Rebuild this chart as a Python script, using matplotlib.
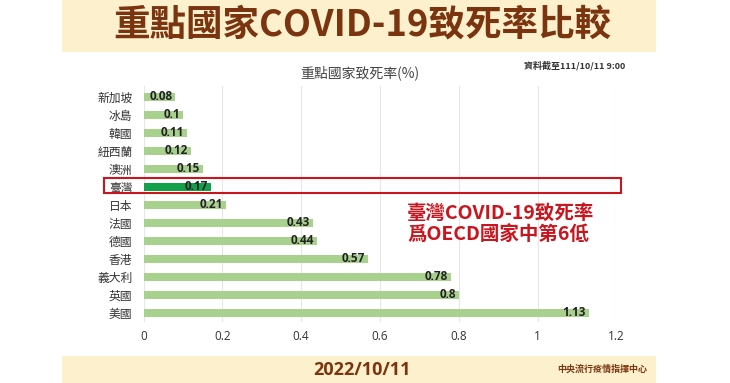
import matplotlib
matplotlib.use("Agg")
import matplotlib.pyplot as plt
from matplotlib.patches import Rectangle
import matplotlib.transforms as mtransforms

plt.rcParams['font.family'] = ['Noto Sans CJK TC', 'DejaVu Sans']

countries = ['新加坡', '冰島', '韓國', '紐西蘭', '澳洲', '臺灣', '日本', '法國', '德國', '香港', '義大利', '英國', '美國']
rates = [0.08, 0.1, 0.11, 0.12, 0.15, 0.17, 0.21, 0.43, 0.44, 0.57, 0.78, 0.8, 1.13]
value_labels = ['0.08', '0.1', '0.11', '0.12', '0.15', '0.17', '0.21', '0.43', '0.44', '0.57', '0.78', '0.8', '1.13']
xticks = [0, 0.2, 0.4, 0.6, 0.8, 1.0, 1.2]
xtick_labels = ['0', '0.2', '0.4', '0.6', '0.8', '1', '1.2']
highlight = '臺灣'

BROWN = '#7A3510'
BANNER = '#FDF0CC'
LIGHT = '#A9D18E'
DARK = '#12A04A'
RED = '#C9151E'
LATIN = ['Open Sans', 'Noto Sans CJK TC']

W, H = 730, 383
fig = plt.figure(figsize=(W / 100, H / 100), dpi=100)
fig.patch.set_facecolor('white')

# banners
fig.add_artist(Rectangle((62 / W, 1 - 52 / H), (656 - 62) / W, 52 / H,
                         transform=fig.transFigure, facecolor=BANNER, edgecolor='none', zorder=0))
fig.add_artist(Rectangle((62 / W, 0), (656 - 62) / W, (383 - 356) / H,
                         transform=fig.transFigure, facecolor=BANNER, edgecolor='none', zorder=0))

fig.text(362 / W, 1 - 26 / H, '重點國家COVID-19致死率比較', ha='center', va='center',
         fontsize=26.3, fontweight='heavy', color=BROWN)
fig.text(362 / W, 1 - 370 / H, '2022/10/11', ha='center', va='center',
         fontsize=13, fontweight='bold', color=BROWN, family=LATIN)
fig.text(647 / W, 1 - 369 / H, '中央流行疫情指揮中心', ha='right', va='center',
         fontsize=6.5, fontweight='bold', color=BROWN)

fig.text(360 / W, 1 - 73 / H, '重點國家致死率(%)', ha='center', va='center',
         fontsize=10, color='#444444')
fig.text(625 / W, 1 - 66 / H, '資料截至111/10/11 9:00', ha='right', va='center',
         fontsize=6.5, fontweight='bold', color='#333333')

ax = fig.add_axes([143.5 / W, 1 - 322 / H, (616.5 - 143.5) / W, (322 - 86) / H])
ax.set_facecolor('none')
ypos = list(range(len(countries)))
colors = [DARK if c == highlight else LIGHT for c in countries]
ax.barh(ypos, rates, height=0.4, color=colors, zorder=2)
for y, v, lab in zip(ypos, rates, value_labels):
    ax.annotate(lab, (v, y), xytext=(-2, 0), textcoords='offset points',
                ha='right', va='center', fontsize=8.5, fontweight='bold', color='#222222',
                family=LATIN, zorder=3)

ax.set_xlim(0, 1.2)
ax.set_ylim(12.5, -0.61)
ax.set_xticks(xticks)
ax.set_xticklabels(xtick_labels, family=LATIN)
ax.set_yticks(ypos)
ax.set_yticklabels(countries)
ax.tick_params(axis='both', length=0, colors='#333333', labelsize=8.5)
ax.tick_params(axis='x', pad=6)
ax.tick_params(axis='y', pad=8)
for s in ax.spines.values():
    s.set_visible(False)
ax.grid(axis='x', color='#E6E6E6', linewidth=0.8, zorder=0)
ax.set_axisbelow(True)

# highlight box around Taiwan row
hi = countries.index(highlight)
trans = mtransforms.blended_transform_factory(ax.transData, ax.transData)
ax.add_patch(Rectangle((-0.1, hi - 0.5), 1.312, 0.85, transform=trans, fill=False,
                       edgecolor=RED, linewidth=1.5, clip_on=False, zorder=4))

fig.text(407 / W, 1 - 213 / H, '臺灣COVID-19致死率', ha='left', va='center',
         fontsize=14, fontweight='bold', color=RED)
fig.text(407 / W, 1 - 234 / H, '爲OECD國家中第6低', ha='left', va='center',
         fontsize=14, fontweight='bold', color=RED)

fig.savefig('out.png', dpi=100, facecolor='white')
